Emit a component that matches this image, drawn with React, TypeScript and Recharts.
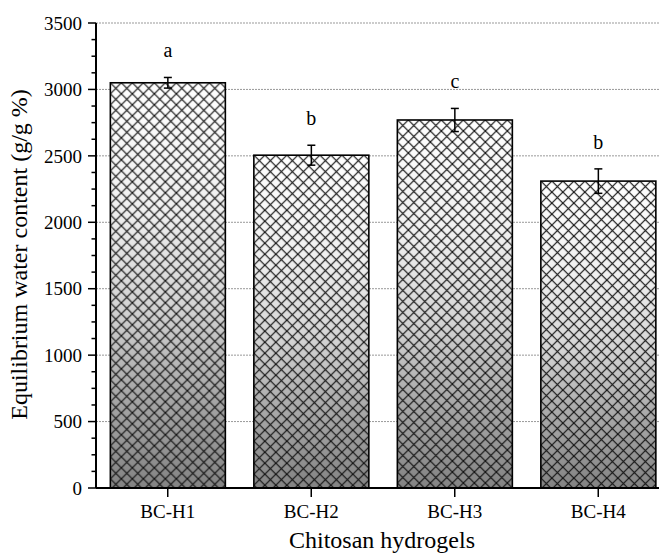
import React from 'react';
import { BarChart, Bar, XAxis, YAxis, CartesianGrid, ErrorBar, LabelList } from 'recharts';

const categories = ['BC-H1', 'BC-H2', 'BC-H3', 'BC-H4'];
const values = [3050, 2505, 2770, 2310];
const errors = [40, 75, 87, 92];
const letters = ['a', 'b', 'c', 'b'];
const majorTicks = [0, 500, 1000, 1500, 2000, 2500, 3000, 3500];
const gridValues = [500, 1000, 1500, 2000, 2500, 3000, 3500];

const allTicks: number[] = [];
majorTicks.forEach((t, i) => {
  allTicks.push(t);
  if (i < majorTicks.length - 1) {
    const step = (majorTicks[i + 1] - t) / 4;
    for (let k = 1; k < 4; k++) allTicks.push(t + step * k);
  }
});

const data = categories.map((c, i) => ({ name: c, value: values[i], err: errors[i], letter: letters[i] }));

const FONT = 'Liberation Serif';

const BarShape = (props: any) => {
  const { x, y, width, height, index } = props;
  if (!width || !height) return null;
  const gid = `grad${index}`;
  const pid = `hatch${index}`;
  return (
    <g>
      <defs>
        <linearGradient id={gid} x1="0" y1="0" x2="0" y2="1">
          <stop offset="0" stopColor="#ffffff" />
          <stop offset="0.3" stopColor="#f0f0f0" />
          <stop offset="0.55" stopColor="#d4d4d4" />
          <stop offset="0.75" stopColor="#ababab" />
          <stop offset="1" stopColor="#838383" />
        </linearGradient>
        <pattern id={pid} patternUnits="userSpaceOnUse" x={x} y={y} width={11} height={11}>
          <path d="M-1,-1 L12,12 M12,-1 L-1,12" stroke="#111" strokeWidth={1.2} />
        </pattern>
      </defs>
      <rect x={x} y={y} width={width} height={height} fill={`url(#${gid})`} />
      <rect x={x} y={y} width={width} height={height} fill={`url(#${pid})`} />
      <rect x={x} y={y} width={width} height={height} fill="none" stroke="#000" strokeWidth={1.6} />
    </g>
  );
};

const YTick = (props: any) => {
  const { x, y, payload } = props;
  const v = payload.value;
  const major = v % 500 === 0;
  return (
    <g>
      <line x1={x} y1={y} x2={x - (major ? 8 : 4.5)} y2={y} stroke="#000" strokeWidth={1.5} />
      {major && (
        <text x={x - 14} y={y} dy="0.35em" textAnchor="end" fontFamily={FONT} fontSize={19} fill="#000">
          {v}
        </text>
      )}
    </g>
  );
};

const XTick = (props: any) => {
  const { x, y, payload } = props;
  return (
    <text x={x} y={y} dy="0.71em" textAnchor="middle" fontFamily={FONT} fontSize={19} fill="#000">
      {payload.value}
    </text>
  );
};

const LetterLabel = (props: any) => {
  const { x, y, width, height, value, index } = props;
  if (value == null || !height) return null;
  const errPx = (errors[index] * height) / value;
  return (
    <text x={x + width / 2} y={y - errPx - 20} textAnchor="middle" fontFamily={FONT} fontSize={20} fill="#000">
      {letters[index]}
    </text>
  );
};

const YLabel = (props: any) => {
  const { viewBox } = props;
  const cy = viewBox.y + viewBox.height / 2 - 1;
  const cx = 27;
  return (
    <text
      x={cx}
      y={cy}
      transform={`rotate(-90, ${cx}, ${cy})`}
      textAnchor="middle"
      fontFamily={FONT}
      fontSize={24}
      fill="#000"
    >
      Equilibrium water content (g/g %)
    </text>
  );
};

const XLabel = (props: any) => {
  const { viewBox } = props;
  const cx = viewBox.x + viewBox.width / 2 - 1;
  const by = viewBox.y + viewBox.height - 6;
  return (
    <text x={cx} y={by} textAnchor="middle" fontFamily={FONT} fontSize={24} fill="#000">
      Chitosan hydrogels
    </text>
  );
};

export default function App() {
  return (
    <div style={{ position: 'fixed', left: 0, top: 0, width: 659, height: 554, overflow: 'hidden', background: '#fff' }}>
      <BarChart
        width={670}
        height={554}
        data={data}
        margin={{ top: 23, right: 0, bottom: 0, left: 0 }}
        barCategoryGap="10%"
      >
        <CartesianGrid vertical={false} horizontalValues={gridValues} stroke="#999" strokeDasharray="2 1" />
        <XAxis
          dataKey="name"
          height={66}
          tickSize={9}
          tickMargin={8}
          axisLine={{ stroke: '#000', strokeWidth: 2 }}
          tickLine={{ stroke: '#000', strokeWidth: 1.5 }}
          tick={<XTick />}
          label={<XLabel />}
        />
        <YAxis
          width={96}
          domain={[0, 3500]}
          ticks={allTicks}
          interval={0}
          allowDataOverflow
          tickSize={0}
          tickMargin={0}
          tickLine={false}
          axisLine={{ stroke: '#000', strokeWidth: 2 }}
          tick={<YTick />}
          label={<YLabel />}
        />
        <Bar dataKey="value" shape={<BarShape />} isAnimationActive={false}>
          <ErrorBar dataKey="err" width={4} stroke="#000" strokeWidth={1.5} direction="y" />
          <LabelList dataKey="value" content={<LetterLabel />} />
        </Bar>
      </BarChart>
    </div>
  );
}
